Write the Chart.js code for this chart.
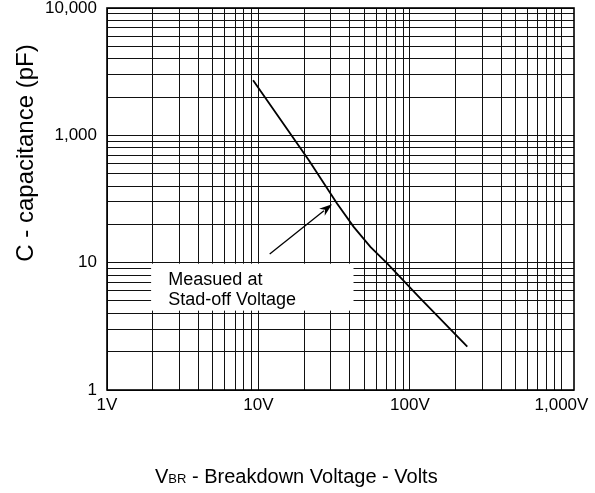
<!DOCTYPE html>
<html>
<head>
<meta charset="utf-8">
<script src="https://cdn.jsdelivr.net/npm/chart.js@4/dist/chart.umd.min.js"></script>
<style>
  html, body { margin: 0; padding: 0; background: #ffffff; }
  #wrap { width: 595px; height: 493px; }
</style>
</head>
<body>
<div id="wrap"><canvas id="c" width="595" height="493"></canvas></div>
<script>
// ---- data ----
const voltage      = [9.21, 21.5, 33.0, 42.5, 54.8, 70.7, 117, 239];      // V (x)
const capacitance  = [271, 63.8, 29.2, 19.1, 13.3, 9.87, 5.24, 2.19];     // axis units (y)

const xTickValues  = [1, 10, 100, 1000];
const xTickLabels  = ['1V', '10V', '100V', '1,000V'];
const yTickValues  = [1, 10, 100, 1000];
const yTickLabels  = ['1', '10', '1,000', '10,000'];

const xTitleMain   = 'V';
const xTitleSub    = 'BR';
const xTitleRest   = ' - Breakdown Voltage - Volts';
const yTitle       = 'C - capacitance (pF)';
const noteLines    = ['Measued at', 'Stad-off Voltage'];

// annotation anchors (data coordinates)
const noteBox      = { x0: 2, x1: 42.4, y0: 10, y1: 4.2 };
const noteText     = { x: 2.54, y: [7.3, 5.09] };
const arrowFrom    = { x: 11.86, y: 11.7 };
const arrowTo      = { x: 30.6, y: 28.8 };

const FONT = "'Liberation Sans', Arial, Helvetica, sans-serif";

function decadeGrid(minV, maxV) {
  const out = [];
  for (let d = minV; d < maxV; d *= 10) {
    for (let m = 1; m <= 9; m++) {
      const v = m * d;
      if (v >= minV && v <= maxV) out.push(v);
    }
  }
  out.push(maxV);
  return out;
}

const annotationPlugin = {
  id: 'annot',
  beforeDatasetsDraw(chart) {
    const { ctx } = chart;
    const xs = chart.scales.x, ys = chart.scales.y;
    const l = xs.getPixelForValue(noteBox.x0) - 1.5;
    const r = xs.getPixelForValue(noteBox.x1);
    const t = ys.getPixelForValue(noteBox.y0) + 1;
    const b = ys.getPixelForValue(noteBox.y1);
    ctx.save();
    ctx.fillStyle = '#ffffff';
    ctx.fillRect(l, t, r - l, b - t);
    ctx.restore();
  },
  afterDatasetsDraw(chart) {
    const { ctx } = chart;
    const xs = chart.scales.x, ys = chart.scales.y;
    ctx.save();
    ctx.fillStyle = '#000';
    ctx.font = '18px ' + FONT;
    ctx.textAlign = 'left';
    ctx.textBaseline = 'middle';
    noteLines.forEach((s, i) => {
      ctx.fillText(s, xs.getPixelForValue(noteText.x), ys.getPixelForValue(noteText.y[i]));
    });
    // arrow
    const x1 = xs.getPixelForValue(arrowFrom.x), y1 = ys.getPixelForValue(arrowFrom.y);
    const x2 = xs.getPixelForValue(arrowTo.x),   y2 = ys.getPixelForValue(arrowTo.y);
    const ang = Math.atan2(y2 - y1, x2 - x1);
    const hl = 13, hw = 4.5;
    ctx.strokeStyle = '#000';
    ctx.lineWidth = 1.3;
    ctx.beginPath();
    ctx.moveTo(x1, y1);
    ctx.lineTo(x2 - Math.cos(ang) * hl * 0.8, y2 - Math.sin(ang) * hl * 0.8);
    ctx.stroke();
    ctx.beginPath();
    ctx.moveTo(x2, y2);
    ctx.lineTo(x2 - Math.cos(ang) * hl - Math.sin(ang) * hw, y2 - Math.sin(ang) * hl + Math.cos(ang) * hw);
    ctx.lineTo(x2 - Math.cos(ang) * hl * 0.7, y2 - Math.sin(ang) * hl * 0.7);
    ctx.lineTo(x2 - Math.cos(ang) * hl + Math.sin(ang) * hw, y2 - Math.sin(ang) * hl - Math.cos(ang) * hw);
    ctx.closePath();
    ctx.fill();
    ctx.restore();
  },
  afterDraw(chart) {
    const { ctx, chartArea: a } = chart;
    ctx.save();
    ctx.strokeStyle = '#000';
    ctx.lineWidth = 1.6;
    ctx.strokeRect(a.left, a.top, a.right - a.left, a.bottom - a.top);
    // axis titles
    ctx.fillStyle = '#000';
    ctx.textBaseline = 'alphabetic';
    ctx.textAlign = 'left';
    let x = 155;
    const base = 483;
    ctx.font = '20px ' + FONT;
    ctx.fillText(xTitleMain, x, base);
    x += ctx.measureText(xTitleMain).width;
    ctx.font = '13px ' + FONT;
    ctx.fillText(xTitleSub, x, base);
    x += ctx.measureText(xTitleSub).width;
    ctx.font = '20px ' + FONT;
    ctx.fillText(xTitleRest, x, base);

    ctx.translate(33, 153);
    ctx.rotate(-Math.PI / 2);
    ctx.textAlign = 'center';
    ctx.font = '24px ' + FONT;
    ctx.fillText(yTitle, 0, 0);
    ctx.restore();
  }
};

const chart = new Chart(document.getElementById('c'), {
  type: 'scatter',
  data: {
    datasets: [{
      data: voltage.map((v, i) => ({ x: v, y: capacitance[i] })),
      showLine: true,
      borderColor: '#000',
      backgroundColor: '#000',
      borderWidth: 1.8,
      pointRadius: 0,
      tension: 0
    }]
  },
  options: {
    responsive: false,
    devicePixelRatio: 1,
    animation: false,
    layout: { padding: { top: 8, right: 21, left: 0, bottom: 0 } },
    plugins: { legend: { display: false }, tooltip: { enabled: false } },
    scales: {
      x: {
        type: 'logarithmic',
        min: 1,
        max: 1210,
        afterBuildTicks(scale) {
          scale.ticks = decadeGrid(1, 1000).map(v => ({ value: v }));
        },
        afterFit(scale) { scale.height = 103; scale.paddingLeft = 0; scale.paddingRight = 0; },
        grid: { color: '#111', lineWidth: 1, drawTicks: false },
        border: { display: false },
        ticks: {
          autoSkip: false,
          maxRotation: 0,
          minRotation: 0,
          padding: 5,
          color: '#000',
          font: { family: FONT, size: 17 },
          callback(value) {
            const i = xTickValues.indexOf(value);
            return i >= 0 ? xTickLabels[i] : '';
          }
        }
      },
      y: {
        type: 'logarithmic',
        min: 1,
        max: 1000,
        afterBuildTicks(scale) {
          scale.ticks = decadeGrid(1, 1000).map(v => ({ value: v }));
        },
        afterFit(scale) { scale.width = 107; scale.paddingTop = 0; scale.paddingBottom = 0; },
        grid: { color: '#111', lineWidth: 1, drawTicks: false },
        border: { display: false },
        ticks: {
          autoSkip: false,
          padding: 10,
          color: '#000',
          font: { family: FONT, size: 17 },
          callback(value) {
            const i = yTickValues.indexOf(value);
            return i >= 0 ? yTickLabels[i] : '';
          }
        }
      }
    }
  },
  plugins: [annotationPlugin]
});
</script>
</body>
</html>
